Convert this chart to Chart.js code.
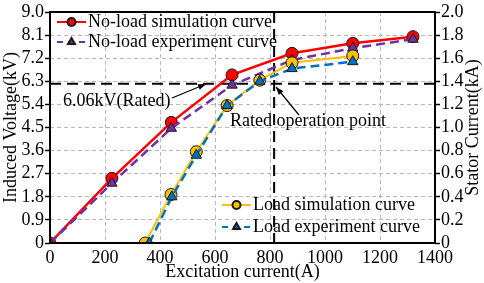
<!DOCTYPE html>
<html>
<head>
<meta charset="utf-8">
<script src="https://cdn.jsdelivr.net/npm/chart.js@4.4.1/dist/chart.umd.min.js"></script>
<style>
  html, body { margin: 0; padding: 0; background: #fff; }
</style>
</head>
<body>
<canvas id="chart" width="484" height="283"></canvas>
<script>
// values
const noLoadField = [0, 225, 441, 662, 880, 1101, 1320];
const noLoadSim = [0, 2.52, 4.70, 6.55, 7.39, 7.78, 8.04];
const noLoadExp = [0, 2.33, 4.47, 6.15, 7.13, 7.59, 7.94];

const loadSimField = [346, 440, 532, 644, 763, 880, 1101];
const loadSim = [0, 0.42, 0.79, 1.19, 1.41, 1.56, 1.62];
const loadExpField = [361, 443, 532, 644, 763, 880, 1101];
const loadExp = [0, 0.40, 0.76, 1.19, 1.40, 1.51, 1.57];

const xTicks = [0, 200, 400, 600, 800, 1000, 1200, 1400];
const voltTicks = ['0', '0.9', '1.8', '2.7', '3.6', '4.5', '5.4', '6.3', '7.2', '8.1', '9.0'];
const currTicks = ['0', '0.2', '0.4', '0.6', '0.8', '1.0', '1.2', '1.4', '1.6', '1.8', '2.0'];

const ratedVoltage = 6.2;
const ratedField = 815;

const FONT = 'Liberation Serif, Times New Roman, serif';
Chart.defaults.font.family = FONT;
Chart.defaults.font.size = 18;
Chart.defaults.color = '#000';

function pts(xs, ys) {
  return xs.map((x, i) => ({ x: x, y: ys[i] }));
}

const series = [
  { label: 'No-load simulation curve', data: pts(noLoadField, noLoadSim), color: '#ff0000', dash: [], style: 'circle', axis: 'yV', width: 2.5, order: 4 },
  { label: 'No-load experiment curve', data: pts(noLoadField, noLoadExp), color: '#7030a0', dash: [9, 5], style: 'triangle', axis: 'yV', width: 2.5, order: 3 },
  { label: 'Load simulation curve', data: pts(loadSimField, loadSim), color: '#ffc000', dash: [], style: 'circle', axis: 'yI', width: 2, order: 2 },
  { label: 'Load experiment curve', data: pts(loadExpField, loadExp), color: '#0070c0', dash: [9, 5], style: 'triangle', axis: 'yI', width: 2.5, order: 1 }
];

const datasets = series.map(s => ({
  label: s.label,
  data: s.data,
  yAxisID: s.axis,
  borderColor: s.color,
  backgroundColor: s.color,
  borderWidth: s.width,
  borderDash: s.dash,
  pointStyle: s.style,
  pointRadius: 6,
  pointBorderColor: '#1a1a1a',
  pointBorderWidth: 1,
  pointBackgroundColor: s.color,
  tension: 0,
  order: s.order
}));

function setTicks(values) {
  return function(scale) {
    scale.ticks = values.map(v => ({ value: v }));
  };
}

// legends, reference lines, arrows and frame
const extras = {
  id: 'extras',
  beforeDatasetsDraw(chart) {
    const ctx = chart.ctx;
    const a = chart.chartArea;
    const xs = chart.scales.x, yV = chart.scales.yV;
    ctx.save();
    ctx.strokeStyle = '#000';
    ctx.lineWidth = 2;
    ctx.setLineDash([11, 6]);
    const hy = yV.getPixelForValue(ratedVoltage);
    ctx.beginPath();
    ctx.moveTo(a.left, hy);
    ctx.lineTo(a.right, hy);
    ctx.stroke();
    const vx = xs.getPixelForValue(ratedField);
    ctx.beginPath();
    ctx.moveTo(vx, a.top);
    ctx.lineTo(vx, a.bottom);
    ctx.stroke();
    ctx.restore();
  },
  afterDatasetsDraw(chart) {
    const ctx = chart.ctx;
    const a = chart.chartArea;
    ctx.save();

    // frame
    ctx.strokeStyle = '#000';
    ctx.lineWidth = 2;
    ctx.setLineDash([]);
    ctx.strokeRect(a.left, a.top, a.right - a.left, a.bottom - a.top);

    // annotation texts
    ctx.font = '18px ' + FONT;
    ctx.fillStyle = '#000';
    ctx.textBaseline = 'middle';
    ctx.textAlign = 'left';
    ctx.fillText('6.06kV(Rated)', 63, 101);
    ctx.fillText('Rated operation point', 230, 121);

    function arrow(x1, y1, x2, y2) {
      ctx.lineWidth = 1.2;
      ctx.beginPath();
      ctx.moveTo(x1, y1);
      ctx.lineTo(x2, y2);
      ctx.stroke();
      const ang = Math.atan2(y2 - y1, x2 - x1);
      const L = 8, W = 3;
      ctx.beginPath();
      ctx.moveTo(x2, y2);
      ctx.lineTo(x2 - L * Math.cos(ang) + W * Math.sin(ang), y2 - L * Math.sin(ang) - W * Math.cos(ang));
      ctx.lineTo(x2 - L * Math.cos(ang) - W * Math.sin(ang), y2 - L * Math.sin(ang) + W * Math.cos(ang));
      ctx.closePath();
      ctx.fill();
    }
    arrow(172, 98, 206, 84);
    arrow(299, 115, 276, 87);

    // legends
    const spots = [[57, 22], [57, 42], [222, 205], [222, 227]];
    series.forEach((s, i) => {
      const [x, y] = spots[i];
      ctx.strokeStyle = s.color;
      ctx.lineWidth = 2;
      ctx.setLineDash(s.dash.length ? [6, 5] : []);
      ctx.beginPath();
      ctx.moveTo(x, y);
      ctx.lineTo(x + 29, y);
      ctx.stroke();
      ctx.setLineDash([]);
      ctx.fillStyle = s.color;
      ctx.strokeStyle = '#1a1a1a';
      Chart.helpers.drawPoint(ctx, { pointStyle: s.style, radius: 4, borderWidth: 1, rotation: 0 }, x + 14.5, y);
      ctx.fillStyle = '#000';
      ctx.fillText(s.label, x + 31, y);
    });

    // right axis title, reading bottom to top
    ctx.translate(473, (a.top + a.bottom) / 2);
    ctx.rotate(-Math.PI / 2);
    ctx.textAlign = 'center';
    ctx.fillText('Stator Current(kA)', 0, 0);
    ctx.restore();
  }
};

new Chart(document.getElementById('chart'), {
  type: 'line',
  data: { datasets: datasets },
  options: {
    responsive: false,
    animation: false,
    layout: { padding: { top: 12, left: 0, right: 0, bottom: 0 } },
    plugins: {
      legend: { display: false },
      tooltip: { enabled: false }
    },
    scales: {
      x: {
        type: 'linear',
        min: 0,
        max: 1400,
        afterBuildTicks: setTicks(xTicks),
        afterFit(scale) { scale.height = 40; },
        grid: { color: '#b8b8b8', lineWidth: 1, drawTicks: false },
        border: { display: false, dash: [4, 3] },
        ticks: { padding: 4, autoSkip: false, maxRotation: 0, callback: v => String(v) },
        title: { display: true, text: 'Excitation current(A)', padding: { top: -4, bottom: 0 } }
      },
      yV: {
        position: 'left',
        min: 0,
        max: 9,
        afterBuildTicks: setTicks(voltTicks.map(Number)),
        afterFit(scale) { scale.width = 50; },
        grid: { color: '#b8b8b8', lineWidth: 1, tickLength: 5, tickColor: '#000', tickWidth: 1.5, tickBorderDash: [] },
        border: { display: false, dash: [4, 3] },
        ticks: { padding: 1, autoSkip: false, callback: (v, i) => voltTicks[i] },
        title: { display: true, text: 'Induced Voltage(kV)', padding: 0 }
      },
      yI: {
        position: 'right',
        min: 0,
        max: 2,
        afterBuildTicks: setTicks(currTicks.map(Number)),
        afterFit(scale) { scale.width = 49; },
        grid: { drawOnChartArea: false, tickLength: 5, tickColor: '#000', tickWidth: 1.5, tickBorderDash: [] },
        border: { display: false },
        ticks: { padding: 1, autoSkip: false, callback: (v, i) => currTicks[i] },
        title: { display: false }
      }
    }
  },
  plugins: [extras]
});
</script>
</body>
</html>
